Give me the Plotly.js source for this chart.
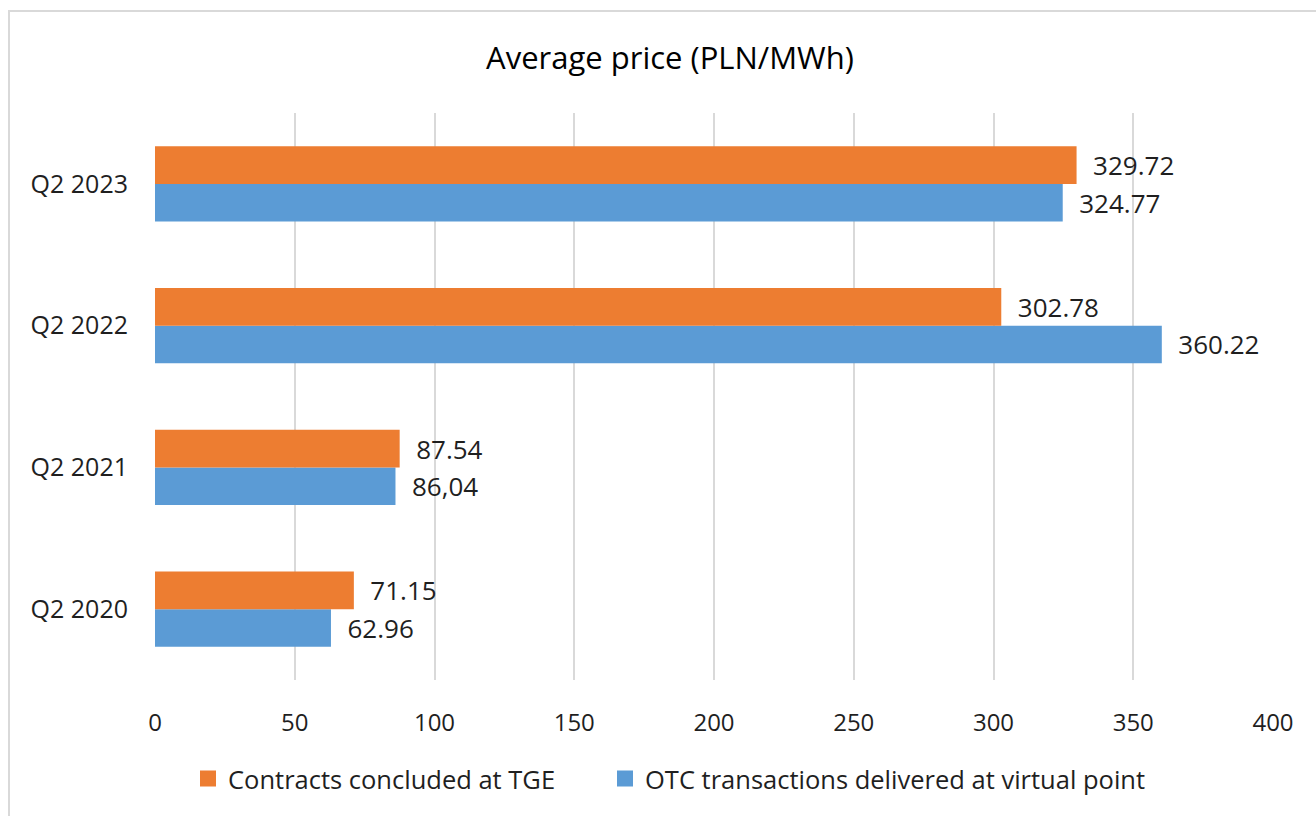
<!DOCTYPE html>
<html>
<head>
<meta charset="utf-8">
<script src="https://cdn.plot.ly/plotly-3.0.1.min.js"></script>
<style>
  html, body { margin: 0; padding: 0; background: #ffffff; overflow: hidden; }
  #frame { position: absolute; left: 8px; top: 10px; width: 1400px; height: 900px;
           border-left: 2px solid #d9d9d9; border-top: 2px solid #d9d9d9; box-sizing: border-box; }
  #chart { position: absolute; left: 0; top: 0; width: 1316px; height: 816px; }
</style>
</head>
<body>
<div id="frame"></div>
<div id="chart"></div>
<script>
const categories = ['Q2 2020', 'Q2 2021', 'Q2 2022', 'Q2 2023'];
const tgeName = 'Contracts concluded at TGE';
const otcName = 'OTC transactions delivered at virtual point';
const tgeValues = [71.15, 87.54, 302.78, 329.72];
const otcValues = [62.96, 86.04, 360.22, 324.77];
const tgeLabels = ['71.15', '87.54', '302.78', '329.72'];
const otcLabels = ['62.96', '86,04', '360.22', '324.77'];
const xTicks = [0, 50, 100, 150, 200, 250, 300, 350, 400];

const tgeColor = '#ED7D31';
const otcColor = '#5B9BD5';
const labelFont = { family: 'Open Sans, sans-serif', size: 26, color: '#1f1f1f' };

const traces = [
  {
    type: 'bar', orientation: 'h', name: otcName, showlegend: false,
    y: categories, x: otcValues,
    text: otcLabels.map(s => '  ' + s), textposition: 'outside', cliponaxis: false,
    constraintext: 'none', textfont: labelFont,
    marker: { color: otcColor }, hoverinfo: 'x+name'
  },
  {
    type: 'bar', orientation: 'h', name: tgeName, showlegend: false,
    y: categories, x: tgeValues,
    text: tgeLabels.map(s => '  ' + s), textposition: 'outside', cliponaxis: false,
    constraintext: 'none', textfont: labelFont,
    marker: { color: tgeColor }, hoverinfo: 'x+name'
  },
  // legend-only entries (square swatches)
  { type: 'scatter', mode: 'markers', name: tgeName, x: [null], y: [null], legend: 'legend',
    marker: { symbol: 'square', size: 16, color: tgeColor }, hoverinfo: 'skip' },
  { type: 'scatter', mode: 'markers', name: otcName, x: [null], y: [null], legend: 'legend2',
    marker: { symbol: 'square', size: 16, color: otcColor }, hoverinfo: 'skip' }
];

const legendFont = { family: 'Open Sans, sans-serif', size: 25.5, color: '#1f1f1f' };
const legendY = 1 - (779 - 113) / (816 - 113 - 136);

const layout = {
  width: 1316, height: 816,
  paper_bgcolor: 'rgba(0,0,0,0)', plot_bgcolor: 'rgba(0,0,0,0)',
  margin: { l: 155, r: 43, t: 113, b: 136 },
  barmode: 'group', bargap: 0.47, bargroupgap: 0,
  title: { text: 'Average price (PLN/MWh)', x: (670 / 1316), xanchor: 'center', y: 1 - 58/816, yanchor: 'middle',
           font: { family: 'Open Sans, sans-serif', size: 31, color: '#000000' } },
  xaxis: {
    range: [0, 400], tickvals: xTicks, ticktext: xTicks.map(String),
    showgrid: true, gridcolor: '#d9d9d9', gridwidth: 1.5, zeroline: false, showline: false,
    ticks: '', ticklabelstandoff: 26,
    tickfont: { family: 'Open Sans, sans-serif', size: 24, color: '#1f1f1f' }, fixedrange: true
  },
  yaxis: {
    type: 'category', categoryorder: 'array', categoryarray: categories,
    showgrid: false, zeroline: false, showline: false, ticks: '', ticklabelstandoff: 26,
    tickfont: { family: 'Open Sans, sans-serif', size: 25, color: '#1f1f1f' }, fixedrange: true
  },
  showlegend: true,
  legend: {
    orientation: 'h', x: (188 - 155) / 1118, xanchor: 'left', y: legendY, yanchor: 'middle',
    font: legendFont, bgcolor: 'rgba(0,0,0,0)'
  },
  legend2: {
    orientation: 'h', x: (605 - 155) / 1118, xanchor: 'left', y: legendY, yanchor: 'middle',
    font: legendFont, bgcolor: 'rgba(0,0,0,0)'
  }
};

Plotly.newPlot('chart', traces, layout, { displayModeBar: false, responsive: false });
</script>
</body>
</html>
